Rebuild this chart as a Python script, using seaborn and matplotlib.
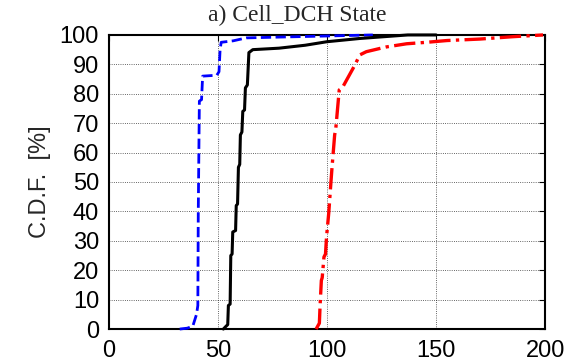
import matplotlib
matplotlib.use("Agg")
import matplotlib.pyplot as plt
import seaborn as sns
import pandas as pd

# series (x value, CDF in %)
blue_x = [32.5, 36, 38.5, 40.2, 40.8, 41.0, 41.5, 42.5, 43.0, 49.5, 50.5, 51.0, 51.5, 57, 63, 80, 121]
blue_y = [0, 0.3, 1, 5, 8, 40, 77.5, 78, 86, 86.3, 87.5, 95, 97.5, 98, 99, 99.3, 100]

black_x = [52.5, 53.8, 54.5, 54.8, 55.6, 55.9, 56.5, 56.8, 58.1, 58.4, 59.0, 59.4, 60.0, 60.3,
           61.0, 61.4, 62.2, 62.6, 63.5, 64.2, 66, 78, 90, 100, 115, 137, 150]
black_y = [0, 1, 1.5, 8, 8.5, 25, 25.5, 33, 33.5, 42, 42.5, 55, 56, 66,
           67, 74, 74.5, 82, 83, 94, 95, 95.5, 96.5, 97.7, 98.8, 100, 100]

red_x = [95, 96.5, 96.8, 97.4, 97.8, 98.6, 99.3, 99.8, 100.8, 101.8, 102.3, 103.5, 104, 105.6,
         107, 109, 112.8, 115, 118, 127, 136.5, 145.7, 155, 170, 185, 199]
red_y = [0, 2, 7.6, 16.5, 17.5, 24.5, 25.5, 31.5, 39.5, 50, 55, 66, 68, 81.3,
         82, 84.7, 89.8, 93.2, 94.3, 95.9, 97, 97.5, 98.1, 98.6, 99.4, 100]

x_ticks = [0, 50, 100, 150, 200]
y_ticks = list(range(0, 101, 10))

sns.set_style("white")
plt.rcParams["font.family"] = ["Liberation Sans", "DejaVu Sans"]

fig = plt.figure(figsize=(5.85, 3.64), dpi=100)
ax = fig.add_axes([0.186, 0.096, 0.746, 0.808])

series = [
    (blue_x, blue_y, "#0000FF", "--", 2.0),
    (black_x, black_y, "black", "-", 2.2),
    (red_x, red_y, "#FF0000", "-.", 2.4),
]
for xs, ys, col, ls, lw in series:
    d = pd.DataFrame({"x": xs, "y": ys})
    sns.lineplot(data=d, x="x", y="y", sort=False, estimator=None, color=col,
                 linestyle=ls, linewidth=lw, ax=ax, clip_on=False, zorder=3)

ax.set_xlim(0, 200)
ax.set_ylim(0, 100)
ax.set_xticks(x_ticks)
ax.set_yticks(y_ticks)
ax.grid(True, color="black", linestyle=":", linewidth=0.6, alpha=0.8)
ax.tick_params(direction="in", length=4, right=True, top=True, labelsize=17,
               colors="black")
ax.tick_params(axis="y", pad=7)
ax.tick_params(axis="x", pad=8)
for s in ax.spines.values():
    s.set_color("black")
    s.set_linewidth(1.5)

ax.set_xlabel("")
ax.set_ylabel("C.D.F.  [%]", fontsize=17, labelpad=6)
# title sits centred on the figure rather than the axes
fig.text(0.508, 0.958, "a) Cell_DCH State", fontsize=17, family="Liberation Serif",
         ha="center", va="center")

fig.savefig("out.png", dpi=100)
